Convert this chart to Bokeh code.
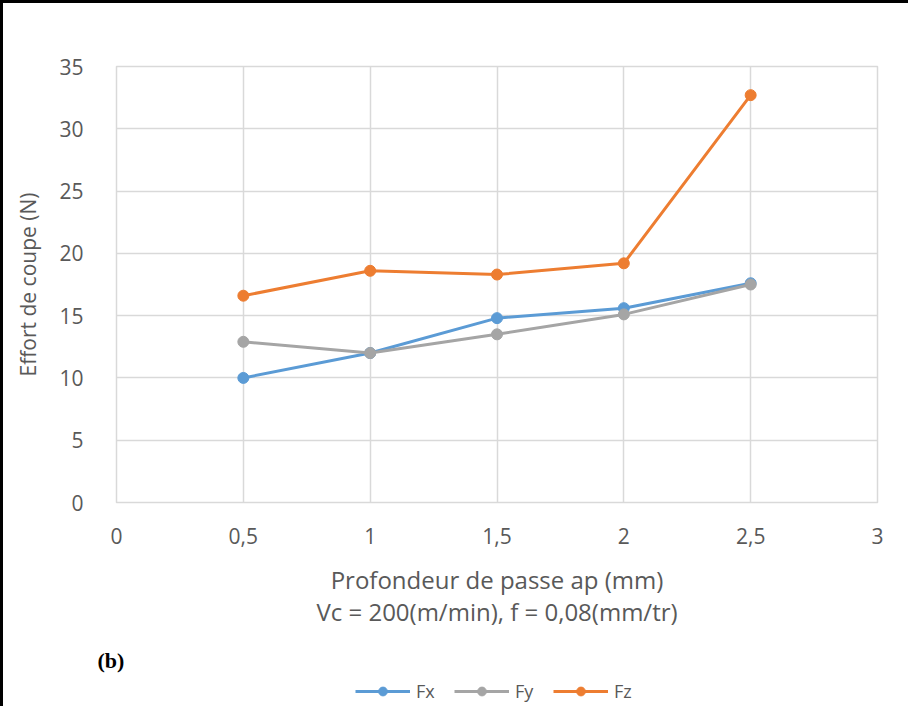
from bokeh.plotting import figure
from bokeh.models import FixedTicker, Legend, LegendItem, Title
from bokeh.layouts import column
from bokeh.embed import file_html
from bokeh.resources import INLINE

# ---- data ----
depth = [0.5, 1.0, 1.5, 2.0, 2.5]
fx = [10.0, 12.0, 14.8, 15.6, 17.6]
fy = [12.9, 12.0, 13.5, 15.1, 17.5]
fz = [16.6, 18.6, 18.3, 19.2, 32.7]
series_names = ["Fx", "Fy", "Fz"]
series_colors = ["#5b9bd5", "#a5a5a5", "#ed7d31"]
x_ticks = [0, 0.5, 1, 1.5, 2, 2.5, 3]
x_tick_labels = ["0", "0,5", "1", "1,5", "2", "2,5", "3"]
y_ticks = [0, 5, 10, 15, 20, 25, 30, 35]
x_title = "Profondeur de passe ap (mm)\nVc = 200(m/min), f = 0,08(mm/tr)"
y_title = "Effort de coupe (N)"
panel_tag = "(b)"

FONT = "Open Sans"
TXT = "#595959"
W = 905

p = figure(width=W, height=634, output_backend="svg", toolbar_location=None,
           x_range=(0, 3), y_range=(0, 35),
           min_border_left=113, min_border_right=31, min_border_top=63,
           min_border_bottom=135)

p.outline_line_color = "#d9d9d9"
p.outline_line_width = 1.5
p.background_fill_color = "white"
p.border_fill_color = "white"

for g in (p.xgrid, p.ygrid):
    g.grid_line_color = "#d9d9d9"
    g.grid_line_width = 1.5
p.xgrid.ticker = FixedTicker(ticks=x_ticks)
p.ygrid.ticker = FixedTicker(ticks=y_ticks)

p.xaxis.ticker = FixedTicker(ticks=x_ticks)
p.xaxis.major_label_overrides = {t: l for t, l in zip(x_ticks, x_tick_labels)}
p.yaxis.ticker = FixedTicker(ticks=y_ticks)
for ax in (p.xaxis, p.yaxis):
    ax.axis_line_color = None
    ax.major_tick_line_color = None
    ax.minor_tick_line_color = None
    ax.major_tick_out = 0
    ax.major_label_text_font = FONT
    ax.major_label_text_font_size = "21px"
    ax.major_label_text_color = TXT
    ax.axis_label_text_font = FONT
    ax.axis_label_text_font_style = "normal"
    ax.axis_label_text_color = TXT
p.xaxis.major_label_standoff = 25
p.yaxis.major_label_standoff = 33

p.yaxis.axis_label = y_title
p.yaxis.axis_label_text_font_size = "21px"
p.yaxis.axis_label_standoff = 14

p.xaxis.axis_label = x_title
p.xaxis.axis_label_text_font_size = "24px"
p.xaxis.axis_label_text_line_height = 0.97
p.xaxis.axis_label_standoff = 16

for name, vals, col in zip(series_names, [fx, fy, fz], series_colors):
    p.line(depth, vals, line_color=col, line_width=3)
    p.scatter(depth, vals, marker="circle", size=11, fill_color=col, line_color=col)

# --- tag + legend strip underneath ---
p2 = figure(width=W, height=69, output_backend="svg", toolbar_location=None,
            x_range=(0, 3), y_range=(0, 35), min_border_left=113, min_border_right=31,
            min_border_top=37, min_border_bottom=2)
p2.axis.visible = False
p2.grid.visible = False
p2.outline_line_color = None
p2.border_fill_color = "white"
tag = Title(text=panel_tag, align="left", offset=-19, standoff=3,
            text_font="Liberation Serif", text_font_size="22px",
            text_font_style="bold", text_color="black")
p2.add_layout(tag, "above")

items = []
for name, vals, col in zip(series_names, [fx, fy, fz], series_colors):
    l = p2.line(depth, vals, line_color=col, line_width=3, visible=False)
    s = p2.scatter(depth, vals, marker="circle", size=11, fill_color=col,
                   line_color=col, visible=False)
    items.append(LegendItem(label=name, renderers=[l, s]))
legend = Legend(items=items, orientation="horizontal", location=(239, 1),
                label_text_font=FONT, label_text_font_size="18px", label_text_color=TXT,
                label_height=22, glyph_width=55, glyph_height=22, label_standoff=6,
                spacing=18, padding=1, margin=0, border_line_color=None,
                background_fill_alpha=0, inactive_fill_alpha=0)
p2.add_layout(legend, "center")

layout = column(p, p2, spacing=0)
layout.styles = {"border-left": "3px solid black", "border-top": "3px solid black"}

open("out.html", "w").write(file_html(layout, INLINE))
